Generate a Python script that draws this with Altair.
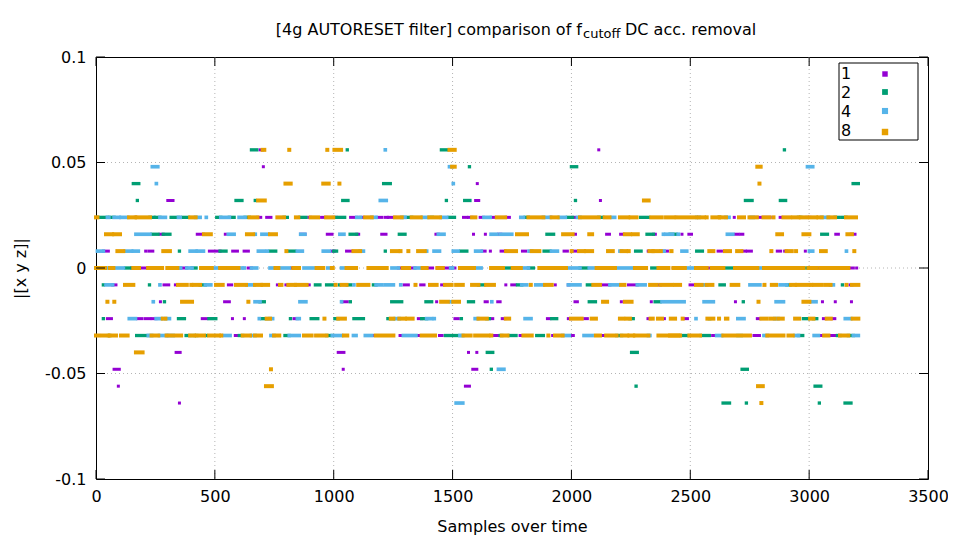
import altair as alt
import pandas as pd

# quantisation step of the |[x y z]| signal
STEP = 0.008

SERIES = ["1", "2", "4", "8"]
COLORS = ["#9400d3", "#009e73", "#56b4e9", "#e69f00"]
WIDTHS = [3, 4, 4, 4]

# runs: (level index, first sample, last sample); value = level * STEP
RUNS_1 = [
    (7, 690, 700), (7, 2115, 2115), (6, 704, 704), (5, 1604, 1604),
    (4, 302, 324), (4, 1597, 1610), (4, 2122, 2122),
    (3, 164, 171), (3, 679, 693), (3, 718, 736), (3, 895, 903), (3, 949, 968), (3, 998, 1012),
    (3, 1071, 1097), (3, 1113, 1125), (3, 1181, 1202), (3, 1216, 1226), (3, 1230, 1258),
    (3, 1546, 1560), (3, 1567, 1581), (3, 1616, 1630), (3, 1662, 1674), (3, 1725, 1739),
    (3, 1910, 1917), (3, 2005, 2014), (3, 2440, 2440), (3, 2685, 2685), (3, 2780, 2836),
    (3, 2878, 2885), (3, 2990, 3004),
    (2, 269, 283), (2, 426, 452), (2, 544, 544), (2, 861, 879), (2, 973, 993), (2, 1097, 1105),
    (2, 1202, 1220), (2, 1430, 1440), (2, 1588, 1588), (2, 1638, 1638), (2, 1693, 1703),
    (2, 2017, 2017), (2, 2148, 2160), (2, 2207, 2218), (2, 2345, 2353), (2, 2465, 2465),
    (2, 2494, 2505), (2, 2690, 2701), (2, 2712, 2721), (2, 3112, 3123), (2, 3177, 3193),
    (1, 31, 52), (1, 209, 209), (1, 222, 239), (1, 477, 522), (1, 575, 595), (1, 623, 641),
    (1, 991, 1002), (1, 1054, 1076), (1, 1624, 1637), (1, 1659, 1659), (1, 1704, 1721),
    (1, 1794, 1808), (1, 1969, 1983), (1, 2008, 2019), (1, 2323, 2323), (1, 2390, 2404),
    (1, 2617, 2631), (1, 2721, 2732), (1, 2740, 2757), (1, 2866, 2880), (1, 2897, 2905),
    (1, 2984, 2984),
    (0, 0, 0), (0, 150, 157), (0, 192, 211), (0, 356, 382), (0, 640, 654), (0, 823, 830),
    (0, 1272, 1286), (0, 1330, 1342), (0, 1391, 1416), (0, 1470, 1492), (0, 1500, 1510),
    (0, 2429, 2429), (0, 2580, 2580), (0, 3040, 3047), (0, 3081, 3095), (0, 3165, 3186),
    (0, 3200, 3200),
    (-1, 70, 84), (-1, 286, 306), (-1, 334, 334), (-1, 557, 571), (-1, 763, 774), (-1, 799, 809),
    (-1, 897, 897), (-1, 1296, 1314), (-1, 1366, 1380), (-1, 1454, 1464), (-1, 1724, 1724),
    (-1, 1749, 1763), (-1, 1932, 1932), (-1, 1987, 1990), (-1, 2132, 2162), (-1, 2240, 2277),
    (-1, 2370, 2375), (-1, 2499, 2510), (-1, 3172, 3180),
    (-2, 271, 271), (-2, 541, 561), (-2, 1038, 1057), (-2, 1433, 1433), (-2, 1637, 1646),
    (-2, 1690, 1700), (-2, 2015, 2025), (-2, 2210, 2210), (-2, 2336, 2336), (-2, 2690, 2690),
    (-2, 3056, 3056), (-2, 3110, 3110), (-2, 3178, 3178),
    (-3, 48, 65), (-3, 175, 194), (-3, 208, 227), (-3, 236, 253), (-3, 447, 466), (-3, 574, 574),
    (-3, 624, 624), (-3, 833, 847), (-3, 1356, 1370), (-3, 1510, 1524), (-3, 1658, 1669),
    (-3, 1709, 1721), (-3, 1899, 1910), (-3, 1987, 1998), (-3, 2056, 2067), (-3, 2322, 2333),
    (-3, 2391, 2391), (-3, 2477, 2488), (-3, 2782, 2793), (-3, 3060, 3071), (-3, 3095, 3108),
    (-4, 286, 290), (-4, 586, 599), (-4, 926, 936), (-4, 1160, 1167), (-4, 1279, 1293),
    (-4, 1349, 1366), (-4, 1445, 1456), (-4, 1672, 1693), (-4, 1784, 1798), (-4, 1921, 1931),
    (-4, 1997, 2008), (-4, 2120, 2146), (-4, 2295, 2300), (-4, 2450, 2457), (-4, 2594, 2611),
    (-4, 2768, 2791), (-4, 3046, 3057), (-4, 3085, 3109),
    (-5, 337, 354), (-5, 1019, 1043), (-5, 1567, 1567), (-5, 1602, 1602),
    (-6, 76, 98), (-6, 1040, 1040), (-6, 1585, 1602),
    (-7, 94, 94), (-7, 1554, 1571), (-8, 351, 351),
]

RUNS_2 = [
    (7, 654, 676), (7, 1057, 1057), (7, 1453, 1475), (7, 2896, 2896),
    (6, 1571, 1571), (6, 2000, 2022),
    (5, 157, 180), (5, 1210, 1238), (5, 3185, 3207),
    (4, 174, 174), (4, 589, 614), (4, 670, 670), (4, 1038, 1060), (4, 1474, 1474), (4, 1551, 1573),
    (4, 2017, 2017), (4, 2732, 2760), (4, 2879, 2901),
    (3, 6, 14), (3, 28, 48), (3, 59, 76), (3, 227, 244), (3, 250, 269), (3, 316, 347), (3, 363, 389),
    (3, 508, 525), (3, 561, 581), (3, 627, 645), (3, 791, 805), (3, 858, 883), (3, 1012, 1046),
    (3, 1300, 1328), (3, 1410, 1415), (3, 1485, 1508), (3, 1805, 1819), (3, 1983, 2005),
    (3, 2115, 2132), (3, 2291, 2325), (3, 2620, 2625), (3, 2955, 2965), (3, 3109, 3123),
    (3, 3137, 3155),
    (2, 236, 261), (2, 283, 311), (2, 1069, 1097), (2, 1276, 1300), (2, 1897, 1925), (2, 2318, 2345),
    (2, 2415, 2440), (2, 3053, 3077),
    (1, 351, 351), (1, 522, 547), (1, 732, 756), (1, 812, 836), (1, 1000, 1012), (1, 1217, 1217),
    (1, 1534, 1560), (1, 1885, 1910), (1, 2270, 2293), (1, 2527, 2551),
    (0, 125, 150), (0, 404, 421), (0, 468, 474), (0, 550, 556), (0, 762, 764), (0, 950, 956),
    (0, 1152, 1156), (0, 1725, 1753), (0, 1819, 1840), (0, 2036, 2064), (0, 2130, 2140),
    (0, 2338, 2366), (0, 2600, 2605), (0, 2653, 2688), (0, 2990, 2997),
    (-1, 31, 31), (-1, 225, 225), (-1, 438, 460), (-1, 923, 942), (-1, 970, 998), (-1, 1024, 1024),
    (-1, 1057, 1071), (-1, 1167, 1178), (-1, 1609, 1632), (-1, 1773, 1791), (-1, 2067, 2081),
    (-1, 2625, 2643), (-1, 2906, 2920), (-1, 3140, 3140),
    (-2, 288, 288), (-2, 690, 708), (-2, 1070, 1070), (-2, 1244, 1286), (-2, 1388, 1412),
    (-2, 1567, 1588), (-2, 2075, 2101), (-2, 2352, 2373), (-2, 2723, 2723),
    (-3, 31, 31), (-3, 347, 372), (-3, 475, 504), (-3, 698, 718), (-3, 818, 818), (-3, 905, 933),
    (-3, 1005, 1019), (-3, 1085, 1125), (-3, 1228, 1251), (-3, 1370, 1391), (-3, 1537, 1537),
    (-3, 1644, 1655), (-3, 1917, 1938), (-3, 2246, 2260), (-3, 2580, 2582), (-3, 2976, 2997),
    (-3, 3018, 3032),
    (-4, 52, 59), (-4, 171, 220), (-4, 379, 396), (-4, 412, 424), (-4, 464, 464), (-4, 603, 617),
    (-4, 795, 813), (-4, 970, 994), (-4, 1470, 1531), (-4, 1700, 1707), (-4, 1738, 1767),
    (-4, 1854, 1882), (-4, 2190, 2211), (-4, 2461, 2488), (-4, 2545, 2580), (-4, 2700, 2715),
    (-4, 2955, 2973), (-4, 3119, 3130), (-4, 3165, 3186),
    (-5, 1646, 1669), (-5, 2253, 2277),
    (-6, 1663, 1663), (-6, 2718, 2740),
    (-7, 2272, 2272), (-7, 3025, 3049),
    (-8, 2638, 2665), (-8, 2736, 2736), (-8, 3043, 3043), (-8, 3151, 3176),
]

RUNS_4 = [
    (7, 1217, 1217),
    (6, 237, 260), (6, 1487, 1498), (6, 2993, 3015),
    (5, 254, 254), (5, 1503, 1503),
    (4, 1196, 1221),
    (3, 48, 54), (3, 76, 98), (3, 105, 133), (3, 269, 292), (3, 347, 354), (3, 419, 438),
    (3, 464, 464), (3, 525, 561), (3, 602, 627), (3, 1097, 1113), (3, 1160, 1178), (3, 1286, 1300),
    (3, 1373, 1395), (3, 1452, 1475), (3, 1632, 1658), (3, 1787, 1798), (3, 1882, 1910),
    (3, 1949, 1974), (3, 2025, 2036), (3, 2171, 2182), (3, 2527, 2538), (3, 2650, 2663),
    (3, 2755, 2765), (3, 3053, 3081),
    (2, 168, 227), (2, 557, 581), (2, 670, 670), (2, 698, 724), (2, 861, 879), (2, 1026, 1043),
    (2, 1440, 1464), (2, 1662, 1687), (2, 1703, 1749), (2, 2387, 2387), (2, 2398, 2426),
    (2, 2449, 2450), (2, 2656, 2679),
    (1, 6, 31), (1, 122, 150), (1, 157, 178), (1, 396, 421), (1, 426, 452), (1, 683, 708),
    (1, 721, 721), (1, 847, 868), (1, 956, 982), (1, 1111, 1125), (1, 1391, 1391), (1, 1422, 1445),
    (1, 1503, 1523), (1, 1597, 1621), (1, 1822, 1833), (1, 1916, 1941), (1, 2204, 2211),
    (1, 2376, 2390), (1, 2465, 2485), (1, 3001, 3015), (1, 3157, 3157),
    (0, 38, 52), (0, 73, 115), (0, 342, 356), (0, 382, 404), (0, 487, 522), (0, 599, 613),
    (0, 624, 624), (0, 654, 676), (0, 732, 753), (0, 767, 813), (0, 875, 928), (0, 975, 992),
    (0, 1033, 1054), (0, 1245, 1272), (0, 1342, 1374), (0, 1492, 1500), (0, 1600, 1620),
    (0, 1791, 1819), (0, 1987, 2036), (0, 2075, 2106), (0, 2190, 2261), (0, 2440, 2454),
    (0, 2482, 2516), (0, 2730, 2738), (0, 2782, 2810), (0, 2925, 2940),
    (-1, 42, 70), (-1, 269, 269), (-1, 460, 483), (-1, 634, 665), (-1, 1085, 1085),
    (-1, 1178, 1202), (-1, 1216, 1251), (-1, 1282, 1282), (-1, 1791, 1812), (-1, 1850, 1882),
    (-1, 1987, 2036), (-1, 2162, 2197), (-1, 2277, 2310), (-1, 2548, 2569), (-1, 2751, 2793),
    (-1, 2878, 2906), (-1, 3090, 3102),
    (-2, 241, 241), (-2, 669, 690), (-2, 858, 883), (-2, 1033, 1033), (-2, 1492, 1492),
    (-2, 1665, 1665), (-2, 2381, 2474), (-2, 2558, 2597), (-2, 2861, 2892), (-2, 3007, 3029),
    (-3, 140, 166), (-3, 253, 274), (-3, 292, 309), (-3, 687, 687), (-3, 732, 743), (-3, 847, 855),
    (-3, 1259, 1276), (-3, 1391, 1412), (-3, 1423, 1423), (-3, 1595, 1606), (-3, 1805, 1830),
    (-3, 2524, 2524), (-3, 2700, 2726), (-3, 2855, 2869), (-3, 3152, 3175),
    (-4, 220, 234), (-4, 267, 297), (-4, 304, 325), (-4, 539, 564), (-4, 654, 669), (-4, 736, 749),
    (-4, 813, 855), (-4, 994, 1033), (-4, 1083, 1094), (-4, 1133, 1160), (-4, 1293, 1346),
    (-4, 1531, 1543), (-4, 1963, 1991), (-4, 2053, 2087), (-4, 2324, 2330), (-4, 2611, 2632),
    (-4, 2810, 2824), (-4, 2941, 2955), (-4, 3021, 3039), (-4, 3186, 3207),
    (-6, 1693, 1716), (-8, 1515, 1543),
]

RUNS_8 = [
    (7, 701, 708), (7, 813, 813), (7, 973, 973), (7, 1003, 1031), (7, 1487, 1509),
    (6, 1498, 1509), (6, 2782, 2796),
    (5, 797, 819), (5, 956, 979), (5, 1024, 1024), (5, 2791, 2791),
    (4, 682, 710), (4, 2305, 2325),
    (3, 0, 6), (3, 139, 164), (3, 171, 227), (3, 396, 419), (3, 645, 679), (3, 763, 791),
    (3, 841, 851), (3, 903, 934), (3, 968, 998), (3, 1132, 1160), (3, 1258, 1286), (3, 1328, 1366),
    (3, 1402, 1447), (3, 1582, 1596), (3, 1686, 1721), (3, 1819, 1882), (3, 1917, 1942),
    (3, 2036, 2115), (3, 2140, 2160), (3, 2204, 2239), (3, 2249, 2274), (3, 2336, 2380),
    (3, 2398, 2429), (3, 2443, 2524), (3, 2538, 2558), (3, 2569, 2569), (3, 2593, 2621),
    (3, 2625, 2650), (3, 2705, 2726), (3, 2749, 2780), (3, 2808, 2832), (3, 2850, 2850),
    (3, 2892, 2920), (3, 2934, 2955), (3, 2965, 2990), (3, 3004, 3029), (3, 3039, 3053),
    (3, 3081, 3109), (3, 3155, 3197),
    (2, 42, 68), (2, 76, 101), (2, 454, 483), (2, 635, 661), (2, 732, 757), (2, 1771, 1813),
    (2, 1965, 2005), (2, 2075, 2087), (2, 2225, 2247), (2, 2259, 2279), (2, 2866, 2886),
    (2, 2976, 3001), (2, 3161, 3180),
    (1, 90, 115), (1, 283, 311), (1, 801, 801), (1, 1083, 1111), (1, 1245, 1271), (1, 1281, 1281),
    (1, 1314, 1314), (1, 1355, 1383), (1, 1725, 1767), (1, 1833, 1865), (1, 2001, 2001),
    (1, 2032, 2053), (1, 2061, 2087), (1, 2154, 2174), (1, 2211, 2230), (1, 2241, 2241),
    (1, 2328, 2342), (1, 2345, 2376), (1, 2420, 2421), (1, 2580, 2597), (1, 2646, 2667),
    (1, 2697, 2715), (1, 2841, 2841), (1, 2905, 2927), (1, 2945, 2945), (1, 3050, 3070),
    (1, 3190, 3190),
    (0, 0, 38), (0, 59, 73), (0, 157, 181), (0, 219, 248), (0, 253, 278), (0, 300, 342),
    (0, 442, 469), (0, 474, 487), (0, 522, 550), (0, 556, 599), (0, 755, 767), (0, 830, 854),
    (0, 928, 956), (0, 992, 996), (0, 1054, 1094), (0, 1146, 1188), (0, 1195, 1223),
    (0, 1290, 1317), (0, 1374, 1391), (0, 1436, 1459), (0, 1531, 1590), (0, 1662, 1707),
    (0, 1712, 1712), (0, 1753, 1787), (0, 1865, 1892), (0, 1896, 1927), (0, 1938, 1977),
    (0, 2106, 2183), (0, 2267, 2314), (0, 2366, 2408), (0, 2429, 2477), (0, 2524, 2569),
    (0, 2590, 2639), (0, 2688, 2709), (0, 2716, 2782), (0, 2810, 2871), (0, 2882, 2976),
    (0, 2997, 3032), (0, 3047, 3081), (0, 3095, 3165),
    (-1, 122, 157), (-1, 345, 382), (-1, 401, 401), (-1, 412, 438), (-1, 505, 533), (-1, 589, 631),
    (-1, 669, 694), (-1, 700, 724), (-1, 774, 780), (-1, 809, 837), (-1, 841, 886), (-1, 1008, 1008),
    (-1, 1033, 1054), (-1, 1103, 1146), (-1, 1344, 1344), (-1, 1405, 1433), (-1, 1468, 1496),
    (-1, 1515, 1543), (-1, 1582, 1609), (-1, 1641, 1674), (-1, 1829, 1829), (-1, 1889, 1917),
    (-1, 2092, 2120), (-1, 2209, 2223), (-1, 2331, 2359), (-1, 2377, 2422), (-1, 2436, 2457),
    (-1, 2524, 2548), (-1, 2569, 2593), (-1, 2674, 2702), (-1, 2812, 2812), (-1, 2843, 2861),
    (-1, 2924, 2941), (-1, 2948, 2997), (-1, 3009, 3009), (-1, 3021, 3050), (-1, 3067, 3090),
    (-1, 3157, 3157), (-1, 3180, 3207),
    (-2, 48, 48), (-2, 77, 77), (-2, 362, 404), (-2, 641, 641), (-2, 1452, 1480), (-2, 1503, 1527),
    (-2, 2133, 2150), (-2, 2225, 2253), (-2, 2787, 2787), (-2, 2976, 3001),
    (-3, 281, 292), (-3, 718, 732), (-3, 961, 961), (-3, 1019, 1047), (-3, 1240, 1251),
    (-3, 1276, 1300), (-3, 1309, 1332), (-3, 1609, 1644), (-3, 1724, 1738), (-3, 1998, 2043),
    (-3, 2085, 2103), (-3, 2204, 2218), (-3, 2232, 2246), (-3, 2333, 2342), (-3, 2364, 2381),
    (-3, 2418, 2436), (-3, 2468, 2468), (-3, 2572, 2597), (-3, 2621, 2621), (-3, 2650, 2656),
    (-3, 2799, 2819), (-3, 2836, 2855), (-3, 2872, 2889), (-3, 2941, 2958), (-3, 3004, 3018),
    (-3, 3074, 3091), (-3, 3183, 3207),
    (-4, 0, 9), (-4, 25, 52), (-4, 59, 84), (-4, 105, 133), (-4, 234, 262), (-4, 297, 358),
    (-4, 396, 412), (-4, 424, 454), (-4, 476, 518), (-4, 527, 527), (-4, 617, 648), (-4, 669, 694),
    (-4, 749, 771), (-4, 875, 907), (-4, 926, 970), (-4, 1043, 1057), (-4, 1177, 1251),
    (-4, 1370, 1426), (-4, 1546, 1576), (-4, 1595, 1651), (-4, 1663, 1663), (-4, 1707, 1731),
    (-4, 1798, 1833), (-4, 1903, 1903), (-4, 1931, 1963), (-4, 2103, 2120), (-4, 2146, 2190),
    (-4, 2211, 2235), (-4, 2244, 2260), (-4, 2267, 2324), (-4, 2366, 2457), (-4, 2415, 2450),
    (-4, 2496, 2541), (-4, 2639, 2751), (-4, 2824, 2892), (-4, 2913, 2931), (-4, 3063, 3081),
    (-4, 3130, 3165),
    (-5, 168, 196), (-6, 736, 736), (-7, 715, 740), (-7, 2785, 2805), (-8, 2799, 2799),
]

X_TICKS = [0, 500, 1000, 1500, 2000, 2500, 3000, 3500]
Y_TICKS = [-0.1, -0.05, 0, 0.05, 0.1]
GRID_X = [500, 1000, 1500, 2000, 2500, 3000]
GRID_Y = [-0.05, 0, 0.05]

TITLE_MAIN = "[4g AUTORESET filter] comparison of f"
TITLE_SUB = "cutoff"
TITLE_END = "DC acc. removal"

FONT = "DejaVu Sans"
W, H = 832, 422

rows = []
for name, runs in zip(SERIES, [RUNS_1, RUNS_2, RUNS_4, RUNS_8]):
    for lvl, s, e in runs:
        rows.append({"series": name, "start": s, "end": e, "value": round(lvl * STEP, 4)})
df = pd.DataFrame(rows)

XS = alt.Scale(domain=[0, 3500], nice=False, zero=False)
YS = alt.Scale(domain=[-0.1, 0.1], nice=False, zero=False)

AX_STYLE = dict(labelFont=FONT, labelFontSize=16, labelColor="black",
                titleFont=FONT, titleFontSize=16, titleFontWeight="normal", titleColor="black")

X_AXIS = alt.Axis(values=X_TICKS, format="d", ticks=False, domain=False, grid=False,
                  labelFlush=False, labelOverlap=False, labelPadding=9,
                  title="Samples over time", titleX=W / 2, titleY=47, titleBaseline="middle",
                  **AX_STYLE)
Y_AXIS = alt.Axis(values=Y_TICKS, labelExpr="'' + datum.value", ticks=False, domain=False,
                  grid=False, labelFlush=False, labelOverlap=False, labelPadding=10,
                  title="|[x y z]|", titleAngle=270, titleX=-76, titleY=H / 2,
                  titleAlign="center", titleBaseline="middle", **AX_STYLE)

grid_x = alt.Chart(pd.DataFrame({"gx": GRID_X})).mark_rule(
    color="#b4b4b4", strokeDash=[1, 3], strokeWidth=1
).encode(x=alt.X("gx:Q", scale=XS, axis=X_AXIS))

grid_y = alt.Chart(pd.DataFrame({"gy": GRID_Y})).mark_rule(
    color="#b4b4b4", strokeDash=[1, 3], strokeWidth=1
).encode(y=alt.Y("gy:Q", scale=YS, axis=Y_AXIS))

points = alt.Chart(df).mark_rule(strokeCap="square").encode(
    x=alt.X("start:Q", scale=XS, axis=X_AXIS),
    x2="end:Q",
    y=alt.Y("value:Q", scale=YS, axis=Y_AXIS),
    color=alt.Color(
        "series:N",
        scale=alt.Scale(domain=SERIES, range=COLORS),
        legend=alt.Legend(
            orient="none", legendX=743, legendY=9, title=None,
            labelFontSize=16, labelExpr="''",
            symbolType="square", symbolSize=6, symbolStrokeWidth=1.5,
            symbolOffset=38, labelOffset=0, padding=0, rowPadding=2,
        ),
    ),
    strokeWidth=alt.StrokeWidth("series:N", scale=alt.Scale(domain=SERIES, range=WIDTHS),
                                legend=None),
)

# legend frame and its labels (gnuplot style: label left, sample right)
legend_box = alt.Chart(pd.DataFrame({"k": [0]})).mark_rect(
    fill="white", stroke="black", strokeWidth=1
).encode(x=alt.value(743), x2=alt.value(822), y=alt.value(6), y2=alt.value(83))
legend_labels = alt.Chart(pd.DataFrame({"t": ["\n".join(SERIES)]})).mark_text(
    align="left", baseline="middle", fontSize=16, font=FONT, color="black",
    lineBreak="\n", lineHeight=19
).encode(text="t:N", x=alt.value(745), y=alt.value(17))

tick_df = pd.DataFrame({"tx": X_TICKS})
ytick_df = pd.DataFrame({"ty": Y_TICKS})
xt_bottom = alt.Chart(tick_df).mark_rule(color="black").encode(
    x=alt.X("tx:Q", scale=XS, axis=X_AXIS), y=alt.value(H), y2=alt.value(H - 9))
xt_top = alt.Chart(tick_df).mark_rule(color="black").encode(
    x=alt.X("tx:Q", scale=XS, axis=X_AXIS), y=alt.value(0), y2=alt.value(9))
yt_left = alt.Chart(ytick_df).mark_rule(color="black").encode(
    y=alt.Y("ty:Q", scale=YS, axis=Y_AXIS), x=alt.value(0), x2=alt.value(9))
yt_right = alt.Chart(ytick_df).mark_rule(color="black").encode(
    y=alt.Y("ty:Q", scale=YS, axis=Y_AXIS), x=alt.value(W - 9), x2=alt.value(W))

SPLIT = 486
title_a = alt.Chart(pd.DataFrame({"t": [TITLE_MAIN]})).mark_text(
    align="right", baseline="middle", fontSize=16, font=FONT, color="black"
).encode(text="t:N", x=alt.value(SPLIT), y=alt.value(-27))
title_b = alt.Chart(pd.DataFrame({"t": [TITLE_SUB]})).mark_text(
    align="left", baseline="middle", fontSize=13, font=FONT, color="black"
).encode(text="t:N", x=alt.value(SPLIT + 1), y=alt.value(-23))
title_c = alt.Chart(pd.DataFrame({"t": [TITLE_END]})).mark_text(
    align="left", baseline="middle", fontSize=16, font=FONT, color="black"
).encode(text="t:N", x=alt.value(SPLIT + 43), y=alt.value(-27))

chart = alt.layer(
    grid_x, grid_y, points, xt_bottom, xt_top, yt_left, yt_right,
    legend_box, legend_labels, title_a, title_b, title_c
).properties(
    width=W, height=H, background="white",
    autosize=alt.AutoSizeParams(type="none"),
    padding={"left": 88, "top": 49, "right": 20, "bottom": 60},
).configure_view(
    stroke="black", strokeWidth=1
)

chart.save("out.html", embed_options={"renderer": "svg", "actions": False})
